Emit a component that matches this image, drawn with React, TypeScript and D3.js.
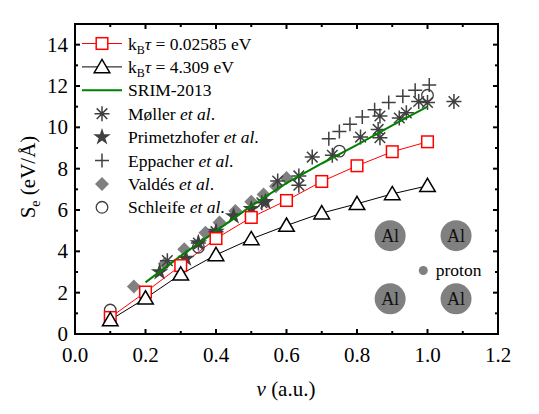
import React from 'react';
import * as d3 from 'd3';

// velocities of the TDDFT runs
const vGrid = [0.1, 0.2, 0.3, 0.4, 0.5, 0.6, 0.7, 0.8, 0.9, 1.0];
const seCold = [0.8, 2.03, 3.31, 4.62, 5.64, 6.46, 7.38, 8.14, 8.82, 9.3];
const seHot = [0.68, 1.73, 2.89, 3.83, 4.6, 5.25, 5.85, 6.3, 6.78, 7.17];

// SRIM-2013 curve
const srimV = [0.2, 0.3, 0.4, 0.5, 0.6, 0.7, 0.8, 0.9, 1.0];
const srimSe = [2.5, 3.78, 4.98, 6.2, 7.3, 8.25, 9.15, 10.1, 11.0];

// experiments / other calcs
const mollerV = [0.262, 0.35, 0.40, 0.53, 0.575, 0.635, 0.635, 0.673, 0.73, 0.81, 0.86, 0.865, 0.865, 0.92, 0.94, 0.975, 1.0, 1.075];
const mollerSe = [3.55, 4.4, 4.95, 6.35, 7.4, 7.65, 7.2, 8.56, 8.65, 9.53, 9.9, 9.5, 10.55, 10.45, 10.7, 11.25, 11.2, 11.25];
const primV = [0.24, 0.315, 0.35, 0.4, 0.45, 0.5, 0.54];
const primSe = [3.0, 3.65, 4.4, 4.95, 5.7, 6.05, 6.4];
const eppV = [0.72, 0.75, 0.78, 0.815, 0.85, 0.89, 0.93, 0.965, 1.005];
const eppSe = [9.45, 9.8, 10.15, 10.5, 10.85, 11.2, 11.5, 11.8, 12.05];
const valdesV = [0.167, 0.255, 0.31, 0.37, 0.41, 0.455, 0.5, 0.535, 0.57, 0.6];
const valdesSe = [2.3, 3.4, 4.1, 4.9, 5.4, 5.95, 6.4, 6.75, 7.15, 7.55];
const schleifeV = [0.1, 0.35, 0.5, 0.75, 1.0];
const schleifeSe = [1.16, 4.2, 5.7, 8.85, 11.55];

const xTicks = [0, 0.2, 0.4, 0.6, 0.8, 1.0, 1.2];
const yTicks = [0, 2, 4, 6, 8, 10, 12, 14];

// inset sketch (data coords)
const atomV = [0.894, 1.081, 0.894, 1.081];
const atomSe = [4.76, 4.76, 1.7, 1.7];
const protonAt = [0.988, 3.07];

const W = 539, H = 414;
const x = d3.scaleLinear().domain([0, 1.2]).range([75, 498]);
const y = d3.scaleLinear().domain([0, 15]).range([334, 24]);

const DARK = '#404040';
const GREY = '#808080';
const FONT = 'Liberation Serif, DejaVu Serif, serif';

const sq = (cx: number, cy: number, k: string | number) => (
  <rect key={k} x={cx - 5.8} y={cy - 5.8} width={11.6} height={11.6} fill="#fff" stroke="#ff0000" strokeWidth={1.5} />
);
const tri = (cx: number, cy: number, k: string | number) => (
  <path key={k} d={`M${cx},${cy - 7.5}L${cx + 7.8},${cy + 5.8}L${cx - 7.8},${cy + 5.8}Z`} fill="#fff" stroke="#000" strokeWidth={1.5} />
);
const ast = (cx: number, cy: number, k: string | number) => {
  const r = 7.5, d = r * 0.707;
  return (
    <path key={k} d={`M${cx},${cy - r}V${cy + r}M${cx - r},${cy}H${cx + r}M${cx - d},${cy - d}L${cx + d},${cy + d}M${cx - d},${cy + d}L${cx + d},${cy - d}`}
      stroke={DARK} strokeWidth={1.5} fill="none" />
  );
};
const star = (cx: number, cy: number, k: string | number) => (
  <path key={k} d={d3.symbol(d3.symbolStar, 95)() as string} transform={`translate(${cx},${cy})`} fill={DARK} />
);
const plus = (cx: number, cy: number, k: string | number) => (
  <path key={k} d={`M${cx},${cy - 7}V${cy + 7}M${cx - 7},${cy}H${cx + 7}`} stroke={DARK} strokeWidth={1.5} fill="none" />
);
const dia = (cx: number, cy: number, k: string | number) => (
  <path key={k} d={`M${cx},${cy - 7}L${cx + 7},${cy}L${cx},${cy + 7}L${cx - 7},${cy}Z`} fill={GREY} />
);
const circ = (cx: number, cy: number, k: string | number) => (
  <circle key={k} cx={cx} cy={cy} r={5.8} fill="none" stroke={DARK} strokeWidth={1.3} />
);

const scatter = (vs: number[], ss: number[], m: typeof sq, id: string) =>
  vs.map((v, i) => m(x(v), y(ss[i]), id + i));

export default function App() {
  const path = (vs: number[], ss: number[]) =>
    d3.line<number>().x((v) => x(v)).y((_, i) => y(ss[i]))(vs) as string;

  const legend = ['cold', 'hot', 'srim', 'moller', 'prim', 'epp', 'valdes', 'schleife'];
  const ly = (i: number) => 43.5 + i * 23.4;
  const lx0 = 82, lx1 = 122, lxm = 102, tx = 128;

  const xMinor = d3.range(0.1, 1.2, 0.2);
  const yMinor = d3.range(1, 15, 2);

  return (
    <svg width={W} height={H} style={{ position: 'absolute', left: 0, top: 0, background: '#fff', fontFamily: FONT }}>
      {/* frame ticks */}
      {xTicks.map((t) => (
        <g key={'xt' + t}>
          <line x1={x(t)} x2={x(t)} y1={y(0)} y2={y(0) - 5} stroke="#000" strokeWidth={2} />
          <line x1={x(t)} x2={x(t)} y1={y(15)} y2={y(15) + 5} stroke="#000" strokeWidth={2} />
          <text x={x(t)} y={362} fontSize={21} textAnchor="middle">{t.toFixed(1)}</text>
        </g>
      ))}
      {xMinor.map((t) => (
        <g key={'xm' + t}>
          <line x1={x(t)} x2={x(t)} y1={y(0)} y2={y(0) - 3} stroke="#000" strokeWidth={2} />
          <line x1={x(t)} x2={x(t)} y1={y(15)} y2={y(15) + 3} stroke="#000" strokeWidth={2} />
        </g>
      ))}
      {yTicks.map((t) => (
        <g key={'yt' + t}>
          <line x1={x(0)} x2={x(0) + 5} y1={y(t)} y2={y(t)} stroke="#000" strokeWidth={2} />
          <line x1={x(1.2)} x2={x(1.2) - 5} y1={y(t)} y2={y(t)} stroke="#000" strokeWidth={2} />
          <text x={68} y={y(t) + 7} fontSize={21} textAnchor="end">{t}</text>
        </g>
      ))}
      {yMinor.map((t) => (
        <g key={'ym' + t}>
          <line x1={x(0)} x2={x(0) + 3} y1={y(t)} y2={y(t)} stroke="#000" strokeWidth={2} />
          <line x1={x(1.2)} x2={x(1.2) - 3} y1={y(t)} y2={y(t)} stroke="#000" strokeWidth={2} />
        </g>
      ))}
      <rect x={x(0)} y={y(15)} width={x(1.2) - x(0)} height={y(0) - y(15)} fill="none" stroke="#000" strokeWidth={2} />

      {/* axis titles */}
      <text x={286} y={396} fontSize={21} textAnchor="middle">
        <tspan fontStyle="italic">v</tspan> (a.u.)
      </text>
      <text transform="translate(35,177) rotate(-90)" fontSize={21} textAnchor="middle">
        S<tspan fontSize={14} dy={5}>e</tspan><tspan dy={-5}> (eV/Å)</tspan>
      </text>

      {/* inset */}
      {atomV.map((v, i) => (
        <g key={'at' + i}>
          <circle cx={x(v)} cy={y(atomSe[i])} r={15.5} fill={GREY} />
          <text x={x(v)} y={y(atomSe[i]) + 6} fontSize={18} textAnchor="middle" fill="#111">Al</text>
        </g>
      ))}
      <circle cx={x(protonAt[0])} cy={y(protonAt[1])} r={4.5} fill={GREY} />
      <text x={x(protonAt[0]) + 12.5} y={y(protonAt[1]) + 5} fontSize={17.5}>proton</text>

      {/* data */}
      <path d={path(vGrid, seCold)} fill="none" stroke="#ff0000" strokeWidth={1} />
      <path d={path(vGrid, seHot)} fill="none" stroke="#000" strokeWidth={1} />
      {scatter(valdesV, valdesSe, dia, 'va')}
      {scatter(primV, primSe, star, 'pr')}
      {scatter(mollerV, mollerSe, ast, 'mo')}
      {scatter(eppV, eppSe, plus, 'ep')}
      <path d={path(srimV, srimSe)} fill="none" stroke="#008000" strokeWidth={2} />
      {scatter(schleifeV, schleifeSe, circ, 'sc')}
      {scatter(vGrid, seCold, sq, 'c')}
      {scatter(vGrid, seHot, tri, 'h')}

      {/* legend */}
      {legend.map((kind, i) => {
        const cy = ly(i);
        let sym: React.ReactNode = null;
        let label: React.ReactNode = null;
        if (kind === 'cold') {
          sym = <g><line x1={lx0} x2={lx1} y1={cy} y2={cy} stroke="#ff0000" strokeWidth={1} />{sq(lxm, cy, 'l')}</g>;
          label = <>k<tspan fontSize={12} dy={4}>B</tspan><tspan dy={-4} fontStyle="italic">τ</tspan> = 0.02585 eV</>;
        } else if (kind === 'hot') {
          sym = <g><line x1={lx0} x2={lx1} y1={cy} y2={cy} stroke="#000" strokeWidth={1} />{tri(lxm, cy, 'l')}</g>;
          label = <>k<tspan fontSize={12} dy={4}>B</tspan><tspan dy={-4} fontStyle="italic">τ</tspan> = 4.309 eV</>;
        } else if (kind === 'srim') {
          sym = <line x1={lx0} x2={lx1} y1={cy} y2={cy} stroke="#008000" strokeWidth={2} />;
          label = 'SRIM-2013';
        } else if (kind === 'moller') {
          sym = ast(lxm, cy, 'l');
          label = <>Møller <tspan fontStyle="italic">et al</tspan>.</>;
        } else if (kind === 'prim') {
          sym = star(lxm, cy, 'l');
          label = <>Primetzhofer <tspan fontStyle="italic">et al</tspan>.</>;
        } else if (kind === 'epp') {
          sym = plus(lxm, cy, 'l');
          label = <>Eppacher <tspan fontStyle="italic">et al</tspan>.</>;
        } else if (kind === 'valdes') {
          sym = dia(lxm, cy, 'l');
          label = <>Valdés <tspan fontStyle="italic">et al</tspan>.</>;
        } else {
          sym = circ(lxm, cy, 'l');
          label = <>Schleife <tspan fontStyle="italic">et al</tspan>.</>;
        }
        return (
          <g key={'lg' + i}>
            {sym}
            <text x={tx} y={cy + 6} fontSize={17.5}>{label}</text>
          </g>
        );
      })}
    </svg>
  );
}
